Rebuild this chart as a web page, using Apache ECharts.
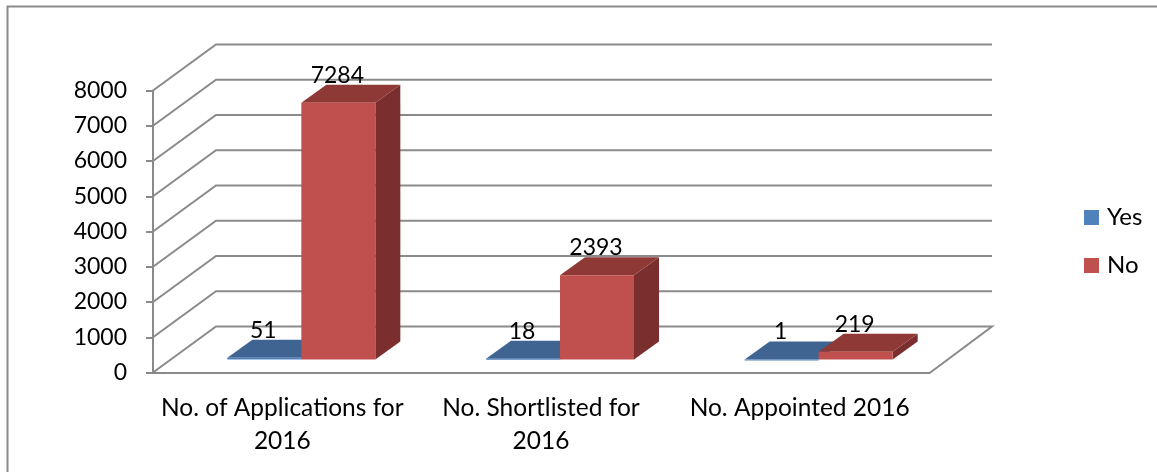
<!DOCTYPE html>
<html><head><meta charset="utf-8">
<style>html,body{margin:0;padding:0;background:#fff}#c{width:1157px;height:472px}</style>
<script src="https://cdn.jsdelivr.net/npm/echarts@6/dist/echarts.min.js"></script>
</head><body><div id="c"></div>
<script>
const categories = ['No. of Applications for\n2016', 'No. Shortlisted for\n2016', 'No. Appointed 2016'];
const yesValues = [51, 18, 1];
const noValues = [7284, 2393, 219];
const yTicks = [0, 1000, 2000, 3000, 4000, 5000, 6000, 7000, 8000];

const FONT = 'Lato';
const WALL = [63, -46], BASE = [19, -13], DEPTH = [25, -18], BAR = 74;
const GRID = '#8a8a8a';

function wall(params, api) {
  const v = api.value(0);
  const p = api.coord([0, v]);
  const x0 = params.coordSys.x, x1 = x0 + params.coordSys.width;
  const y = p[1];
  const pts = [[x0, y], [x0 + WALL[0], y + WALL[1]], [x1 + WALL[0], y + WALL[1]]];
  if (v === 0) pts.push([x1, y + 1]);
  return { type: 'polyline', shape: { points: pts }, style: { fill: null, stroke: GRID, lineWidth: 2 } };
}
function bar(sign, front, top, side) {
  return function (params, api) {
    const c = api.coord([api.value(0), api.value(1)]);
    const z = api.coord([api.value(0), 0]);
    const l = c[0] + BASE[0] + (sign < 0 ? -BAR : 0), r = l + BAR;
    const yb = z[1] + BASE[1], yt = c[1] + BASE[1];
    const dx = DEPTH[0], dy = DEPTH[1];
    return { type: 'group', children: [
      { type: 'polygon', shape: { points: [[r, yb], [r + dx, yb + dy], [r + dx, yt + dy], [r, yt]] }, style: { fill: side } },
      { type: 'polygon', shape: { points: [[l, yt], [r, yt], [r + dx, yt + dy], [l + dx, yt + dy]] }, style: { fill: top } },
      { type: 'rect', shape: { x: l, y: yt, width: BAR, height: Math.max(yb - yt, 1) }, style: { fill: front } },
      { type: 'text', x: (l + r) / 2 - 1, y: yt + dy + 2, style: { text: String(api.value(1)), font: '23px ' + FONT, fill: '#000', align: 'center', verticalAlign: 'bottom' } }
    ] };
  };
}
const chart = echarts.init(document.getElementById('c'), null, { renderer: 'canvas' });
chart.setOption({
  animation: false,
  backgroundColor: '#fff',
  textStyle: { fontFamily: FONT },
  grid: { left: 153, right: 228, top: 90.5, height: 282 },
  legend: { data: ['Yes', 'No'], orient: 'vertical', left: 1079, top: 200.5, itemWidth: 15, itemHeight: 15, itemGap: 24,
    icon: 'rect', textStyle: { fontSize: 24, lineHeight: 24, color: '#000', fontFamily: FONT, padding: [0, 0, 0, 3] }, selectedMode: false },
  xAxis: { type: 'category', data: categories,
    axisLine: { lineStyle: { color: GRID, width: 2 } },
    axisTick: { length: 7, lineStyle: { color: GRID, width: 2 } },
    axisLabel: { interval: 0, color: '#000', fontSize: 24.5, lineHeight: 33, margin: 19, fontFamily: FONT } },
  yAxis: { type: 'value', min: 0, max: 8000, interval: 1000,
    splitLine: { show: false },
    axisLine: { show: true, lineStyle: { color: GRID, width: 2 } },
    axisTick: { show: true, length: 7, lineStyle: { color: GRID, width: 2 } },
    axisLabel: { color: '#000', fontSize: 23, margin: 26, padding: [3, 0, 0, 0], fontFamily: FONT, formatter: v => String(v) } },
  graphic: [{ type: 'polyline', silent: true, shape: { points: [[7.5, 472], [7.5, 6.5], [1157, 6.5]] }, style: { fill: null, stroke: GRID, lineWidth: 2 } }],
  series: [
    { type: 'custom', name: 'wall', coordinateSystem: 'cartesian2d', silent: true, z: 1,
      encode: { y: 0 }, data: yTicks.map(v => [v]), renderItem: wall },
    { type: 'custom', name: 'Yes', z: 2, itemStyle: { color: '#4f81bd' }, data: yesValues.map((v, i) => [i, v]),
      encode: { x: 0, y: 1 }, renderItem: bar(-1, '#4f81bd', '#3f6492', '#345378') },
    { type: 'custom', name: 'No', z: 3, itemStyle: { color: '#c0504d' }, data: noValues.map((v, i) => [i, v]),
      encode: { x: 0, y: 1 }, renderItem: bar(1, '#c0504d', '#8f3937', '#7a2f2e') }
  ]
});
</script></body></html>
